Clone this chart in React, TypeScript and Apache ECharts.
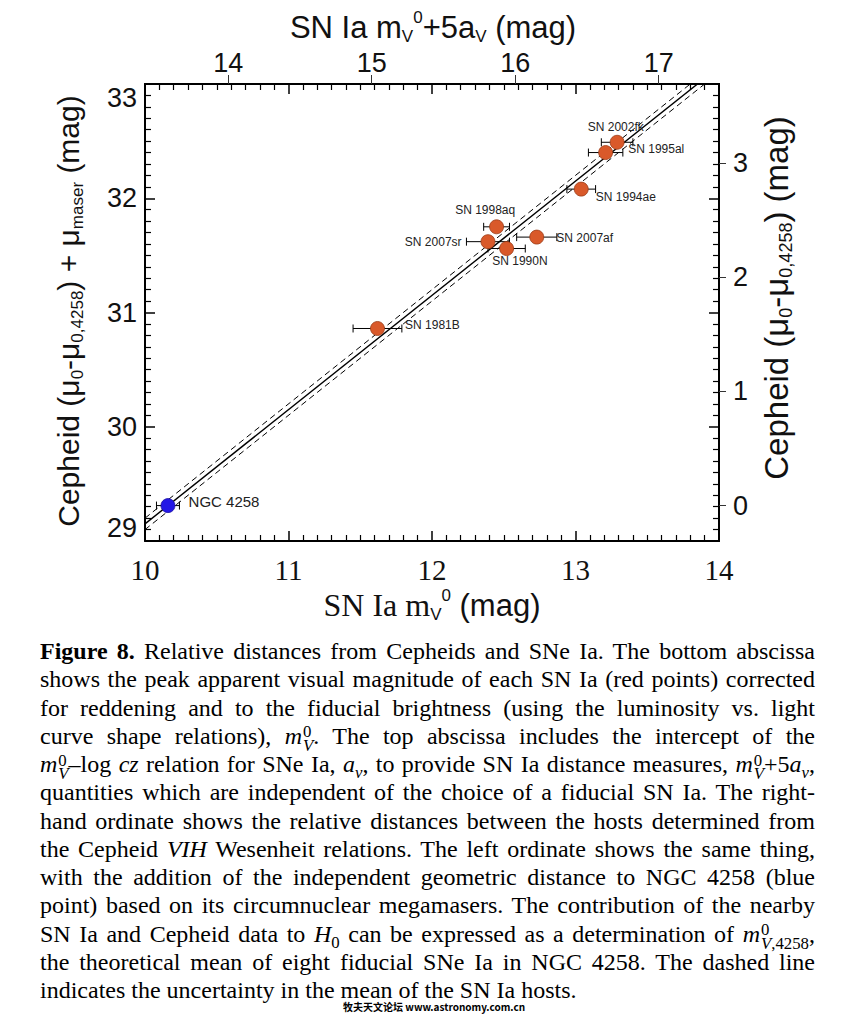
import React, { useEffect, useRef } from "react";
import * as echarts from "echarts";

// ---------------- data ----------------
const snNames = ["SN 1981B", "SN 2007sr", "SN 1998aq", "SN 1990N", "SN 2007af", "SN 1994ae", "SN 1995al", "SN 2002fk"];
const snMag = [11.62, 12.39, 12.45, 12.52, 12.73, 13.04, 13.21, 13.29];
const cepheidMu = [30.86, 31.62, 31.75, 31.56, 31.66, 32.08, 32.4, 32.49];
const snMagErr = [0.17, 0.15, 0.09, 0.13, 0.14, 0.1, 0.12, 0.11];

const anchorNames = ["NGC 4258"];
const anchorMag = [10.16];
const anchorMu = [29.31];
const anchorErr = [0.08];

const fitX = [10, 14];
const fitY = [29.15, 33.15];
const upperY = [29.2, 33.2];
const lowerY = [29.1, 33.1];

const bottomTicks = [10, 11, 12, 13, 14];
const topTicks = [14, 15, 16, 17];
const topOffset = 3.42; // 5 a_v
const leftTicks = [29, 30, 31, 32, 33];
const rightTicks = [0, 1, 2, 3];
const maserMu = 29.31;

// label placement (style): dx, dy from point centre, align
const labelPlace: Record<string, [number, number, string]> = {
  "SN 1981B": [28, -3, "left"],
  "SN 2007sr": [-26, 1, "right"],
  "SN 1998aq": [-11, -16, "center"],
  "SN 1990N": [-14, 13, "left"],
  "SN 2007af": [20, 1, "left"],
  "SN 1994ae": [15, 8, "left"],
  "SN 1995al": [23, -3, "left"],
  "SN 2002fk": [-29, -15, "left"],
  "NGC 4258": [21, -4, "left"],
};

const SANS = "Liberation Sans, Arial, Helvetica, sans-serif";
const SERIF = "Liberation Serif, Times New Roman, serif";

function errRender(params: any, api: any) {
  const x = api.value(0);
  const y = api.value(1);
  const e = api.value(2);
  const p1 = api.coord([x - e, y]);
  const p2 = api.coord([x + e, y]);
  const c = 4;
  const st = { stroke: "#000", lineWidth: 1 };
  return {
    type: "group",
    children: [
      { type: "line", shape: { x1: p1[0], y1: p1[1], x2: p2[0], y2: p2[1] }, style: st },
      { type: "line", shape: { x1: p1[0], y1: p1[1] - c, x2: p1[0], y2: p1[1] + c }, style: st },
      { type: "line", shape: { x1: p2[0], y1: p2[1] - c, x2: p2[0], y2: p2[1] + c }, style: st },
    ],
  };
}

function pointItem(name: string, x: number, y: number, fontSize: number) {
  const pl = labelPlace[name];
  return {
    name,
    value: [x, y],
    label: {
      show: true,
      formatter: name,
      position: [7 + pl[0], 7 + pl[1]],
      align: pl[2],
      verticalAlign: "middle",
      fontFamily: SANS,
      fontSize,
      color: "#222",
    },
  };
}

function richSet(size: number, subSize: number) {
  return {
    b: { fontFamily: SANS, fontSize: size, lineHeight: size + 5, fill: "#111" },
    bs: { fontFamily: SERIF, fontSize: size + 1, lineHeight: size + 5, fill: "#111" },
    sub: { fontFamily: SANS, fontSize: subSize, verticalAlign: "bottom", lineHeight: subSize, fill: "#111" },
    sup: { fontFamily: SANS, fontSize: subSize, verticalAlign: "top", lineHeight: subSize, fill: "#111" },
  };
}

function buildOption(): any {
  const axisLine = { show: true, onZero: false, lineStyle: { color: "#000", width: 2 } };
  const majorIn = { show: true, inside: true, length: 10, lineStyle: { color: "#000", width: 1.5 } };
  const minorIn = { show: true, splitNumber: 10, length: 6, lineStyle: { color: "#000", width: 1.2 } };
  const grid = { left: 145, top: 84, width: 574, height: 457 };

  return {
    animation: false,
    backgroundColor: "#fff",
    grid,
    xAxis: [
      {
        type: "value",
        position: "bottom",
        min: bottomTicks[0],
        max: bottomTicks[bottomTicks.length - 1],
        interval: 1,
        axisLine,
        axisTick: majorIn,
        minorTick: minorIn,
        splitLine: { show: false },
        axisLabel: { fontFamily: SERIF, fontSize: 29, color: "#111", margin: 14 },
      },
      {
        type: "value",
        position: "top",
        offset: 0,
        min: bottomTicks[0] + topOffset,
        max: bottomTicks[bottomTicks.length - 1] + topOffset,
        axisLine,
        axisTick: { show: true, inside: false, length: 9, customValues: topTicks, lineStyle: { color: "#333", width: 1 } },
        splitLine: { show: false },
        axisLabel: {
          customValues: topTicks,
          formatter: (v: number) => String(Math.round(v)),
          fontFamily: SANS,
          fontSize: 27,
          color: "#111",
          margin: 8,
        },
      },
      {
        type: "value",
        position: "top",
        offset: 0,
        min: bottomTicks[0],
        max: bottomTicks[bottomTicks.length - 1],
        interval: 1,
        axisLine,
        axisTick: majorIn,
        minorTick: minorIn,
        splitLine: { show: false },
        axisLabel: { show: false },
      },
    ],
    yAxis: [
      {
        type: "value",
        position: "left",
        min: leftTicks[0],
        max: leftTicks[leftTicks.length - 1],
        interval: 1,
        axisLine,
        axisTick: majorIn,
        minorTick: minorIn,
        splitLine: { show: false },
        axisLabel: {
          fontFamily: SANS,
          fontSize: 27,
          color: "#111",
          margin: 8,
          verticalAlignMinLabel: "bottom",
          verticalAlignMaxLabel: "top",
        },
      },
      {
        type: "value",
        position: "right",
        offset: 0,
        min: leftTicks[0] - maserMu,
        max: leftTicks[leftTicks.length - 1] - maserMu,
        axisLine,
        axisTick: { show: true, inside: false, length: 7, customValues: rightTicks, lineStyle: { color: "#333", width: 1 } },
        splitLine: { show: false },
        axisLabel: {
          customValues: rightTicks,
          formatter: (v: number) => String(Math.round(v)),
          fontFamily: SANS,
          fontSize: 27,
          color: "#111",
          margin: 14,
        },
      },
      {
        type: "value",
        position: "right",
        offset: 0,
        min: leftTicks[0],
        max: leftTicks[leftTicks.length - 1],
        interval: 1,
        axisLine,
        axisTick: majorIn,
        minorTick: minorIn,
        splitLine: { show: false },
        axisLabel: { show: false },
      },
    ],
    series: [
      {
        type: "line",
        xAxisIndex: 0,
        yAxisIndex: 0,
        data: fitX.map((x, i) => [x, fitY[i]]),
        symbol: "none",
        clip: true,
        silent: true,
        lineStyle: { color: "#000", width: 1.4 },
        z: 2,
      },
      {
        type: "line",
        xAxisIndex: 0,
        yAxisIndex: 0,
        data: fitX.map((x, i) => [x, upperY[i]]),
        symbol: "none",
        clip: true,
        silent: true,
        lineStyle: { color: "#000", width: 1, type: [6, 4] },
        z: 2,
      },
      {
        type: "line",
        xAxisIndex: 0,
        yAxisIndex: 0,
        data: fitX.map((x, i) => [x, lowerY[i]]),
        symbol: "none",
        clip: true,
        silent: true,
        lineStyle: { color: "#000", width: 1, type: [6, 4] },
        z: 2,
      },
      {
        type: "custom",
        xAxisIndex: 0,
        yAxisIndex: 0,
        renderItem: errRender,
        encode: { x: 0, y: 1 },
        data: [
          ...snMag.map((x, i) => [x, cepheidMu[i], snMagErr[i]]),
          ...anchorMag.map((x, i) => [x, anchorMu[i], anchorErr[i]]),
        ],
        silent: true,
        z: 3,
      },
      {
        type: "scatter",
        xAxisIndex: 0,
        yAxisIndex: 0,
        symbolSize: 14,
        itemStyle: { color: "#D9592A", borderColor: "#9a3c18", borderWidth: 0.8, opacity: 1 },
        data: snNames.map((n, i) => pointItem(n, snMag[i], cepheidMu[i], 12)),
        z: 4,
      },
      {
        type: "scatter",
        xAxisIndex: 0,
        yAxisIndex: 0,
        symbolSize: 14,
        itemStyle: { color: "#2418E6", borderColor: "#1a10a0", borderWidth: 0.8, opacity: 1 },
        data: anchorNames.map((n, i) => pointItem(n, anchorMag[i], anchorMu[i], 15)),
        z: 4,
      },
    ],
    graphic: [
      {
        type: "text",
        x: 433,
        y: 27,
        style: {
          text: "{b|SN Ia m}{sub|V}{sup|0}{b|+5a}{sub|V}{b| (mag)}",
          rich: richSet(31, 17),
          align: "center",
          verticalAlign: "middle",
        },
      },
      {
        type: "text",
        x: 432,
        y: 605,
        style: {
          text: "{bs|SN Ia m}{sub|V}{sup|0}{b| (mag)}",
          rich: richSet(31, 17),
          align: "center",
          verticalAlign: "middle",
        },
      },
      {
        type: "text",
        x: 68,
        y: 311,
        rotation: Math.PI / 2,
        style: {
          text: "{b|Cepheid (μ}{sub|0}{b|-μ}{sub|0,4258}{b|) + μ}{sub|maser}{b| (mag)}",
          rich: richSet(30, 17),
          align: "center",
          verticalAlign: "middle",
        },
      },
      {
        type: "text",
        x: 776,
        y: 298,
        rotation: Math.PI / 2,
        style: {
          text: "{b|Cepheid (μ}{sub|0}{b|-μ}{sub|0,4258}{b|) (mag)}",
          rich: richSet(33, 18),
          align: "center",
          verticalAlign: "middle",
        },
      },
    ],
  };
}

function M(props: { sup?: string; sub: string }) {
  return (
    <span style={{ whiteSpace: "nowrap" }}>
      <i>m</i>
      <span
        style={{
          display: "inline-block",
          verticalAlign: "-0.42em",
          lineHeight: "0.8em",
          fontSize: "0.7em",
          textAlign: "left",
          marginLeft: "1px",
        }}
      >
        <span style={{ display: "block" }}>{props.sup ?? "\u00a0"}</span>
        <span style={{ display: "block" }}>
          <i>{props.sub.charAt(0)}</i>
          {props.sub.slice(1)}
        </span>
      </span>
    </span>
  );
}

const av = (
  <span>
    <i>a</i>
    <sub style={{ fontSize: "0.7em", lineHeight: 0 }}>
      <i>v</i>
    </sub>
  </span>
);

const captionLines: any[] = [
  <>
    <b>Figure 8.</b> Relative distances from Cepheids and SNe Ia. The bottom abscissa
  </>,
  <>shows the peak apparent visual magnitude of each SN Ia (red points) corrected</>,
  <>for reddening and to the fiducial brightness (using the luminosity vs. light</>,
  <>
    curve shape relations), <M sup="0" sub="V" />. The top abscissa includes the intercept of the
  </>,
  <>
    <M sup="0" sub="V" />–log <i>cz</i> relation for SNe Ia, {av}, to provide SN Ia distance measures, <M sup="0" sub="V" />+5{av},
  </>,
  <>quantities which are independent of the choice of a fiducial SN Ia. The right-</>,
  <>hand ordinate shows the relative distances between the hosts determined from</>,
  <>
    the Cepheid <i>VIH</i> Wesenheit relations. The left ordinate shows the same thing,
  </>,
  <>with the addition of the independent geometric distance to NGC 4258 (blue</>,
  <>point) based on its circumnuclear megamasers. The contribution of the nearby</>,
  <>
    SN Ia and Cepheid data to <i>H</i>
    <sub style={{ fontSize: "0.7em", lineHeight: 0 }}>0</sub> can be expressed as a determination of{" "}
    <M sup="0" sub="V,4258" />,
  </>,
  <>the theoretical mean of eight fiducial SNe Ia in NGC 4258. The dashed line</>,
  <>indicates the uncertainty in the mean of the SN Ia hosts.</>,
];

export default function App() {
  const ref = useRef<HTMLDivElement>(null);
  const capRef = useRef<HTMLDivElement>(null);
  useEffect(() => {
    if (!ref.current) return;
    const chart = echarts.init(ref.current, undefined, { renderer: "svg" });
    chart.setOption(buildOption());
    return () => chart.dispose();
  }, []);

  useEffect(() => {
    const cap = capRef.current;
    if (!cap) return;
    const lines = Array.from(cap.children) as HTMLElement[];
    lines.forEach((el) => {
      let ls = 0;
      let n = 0;
      while (el.scrollHeight > 40 && n < 40) {
        ls -= 0.1;
        n++;
        el.style.letterSpacing = ls.toFixed(2) + "px";
      }
    });
  }, []);

  return (
    <div style={{ position: "absolute", left: 0, top: 0, width: 854, height: 1014, background: "#fff", overflow: "hidden" }}>
      <div ref={ref} style={{ position: "absolute", left: 0, top: 0, width: 854, height: 636 }} />
      <div
        ref={capRef}
        style={{
          position: "absolute",
          left: 40,
          top: 637,
          width: 775,
          fontFamily: SERIF,
          fontSize: 24,
          color: "#000",
        }}
      >
        {captionLines.map((ln, i) => (
          <div
            key={i}
            style={{
              height: 28.25,
              lineHeight: "28.25px",
              textAlign: i === captionLines.length - 1 ? "left" : "justify",
              textAlignLast: i === captionLines.length - 1 ? "left" : "justify",
              whiteSpace: "normal",
            }}
          >
            {ln}
          </div>
        ))}
      </div>
      <div
        style={{
          position: "absolute",
          left: 343,
          top: 999,
          fontFamily: "Noto Sans CJK SC, sans-serif",
          fontSize: 10,
          fontWeight: "bold",
          color: "#000",
          whiteSpace: "nowrap",
        }}
      >
        牧夫天文论坛 www.astronomy.com.cn
      </div>
    </div>
  );
}
